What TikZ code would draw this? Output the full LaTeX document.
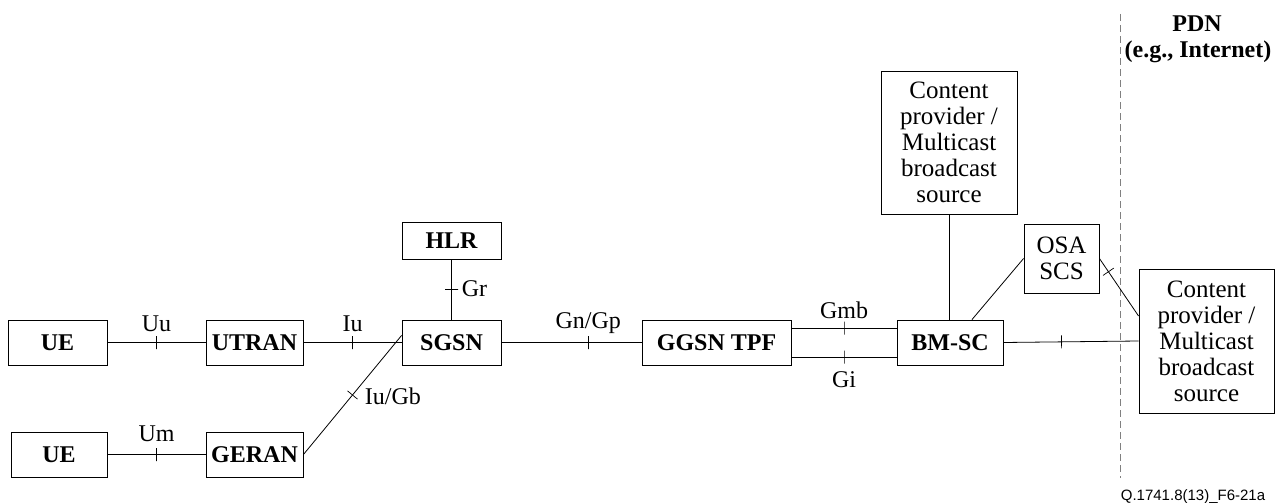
\documentclass[tikz,border=0pt]{standalone}
\usepackage{fontspec}
\setmainfont{Liberation Serif}
\newfontfamily\footfont{Liberation Sans}
\usetikzlibrary{positioning}

\tikzset{
  box/.style={draw, line width=0.9pt, inner sep=0pt, align=center,
    font=\bfseries\fontsize{24}{27}\selectfont},
  srcbox/.style={draw, line width=0.9pt, inner sep=0pt, align=center,
    font=\fontsize{25}{26}\selectfont},
  tickmark/.style={draw, sloped, rectangle, minimum width=0pt,
    minimum height=13pt, inner sep=0pt, line width=0.7pt},
  lbl/.style={anchor=base, inner sep=0pt, font=\fontsize{24}{26}\selectfont},
  link/.style={line width=0.8pt},
}

\begin{document}
\begin{tikzpicture}[x=1pt,y=1pt]
 \useasboundingbox (0,0) rectangle (1280,-503);
 %
 \node[box, minimum width=99, minimum height=45] (ue1) at (57.5,-342.5) {UE};
 \node[box, minimum width=97, minimum height=45] (utran) at (254.5,-342.5) {UTRAN};
 \node[box, minimum width=99, minimum height=45] (sgsn) at (451.5,-342.5) {SGSN};
 \node[box, minimum width=99, minimum height=37] (hlr) at (451.5,-240.5) {HLR};
 \node[box, minimum width=96, minimum height=45] (ue2) at (59,-454.5) {UE};
 \node[box, minimum width=97, minimum height=45] (geran) at (254.5,-454.5) {GERAN};
 \node[box, minimum width=149, minimum height=45] (ggsn) at (716.5,-342.5) {GGSN TPF};
 \node[box, minimum width=106, minimum height=45] (bmsc) at (950,-342.5) {BM-SC};
 \node[srcbox, minimum width=136, minimum height=143] (cp1) at (949,-142.5)
   {Content\\provider /\\Multicast\\broadcast\\source};
 \node[srcbox, minimum width=75, minimum height=69] (osa) at (1061.5,-258.5) {OSA\\SCS};
 \node[srcbox, minimum width=135, minimum height=144] (cp2) at (1206.5,-341)
   {Content\\provider /\\Multicast\\broadcast\\source};
 %
 \node[box, draw=none] (pdn) at (1197,-32) [anchor=base] {PDN};
 \node[box, draw=none] (inet) at (1198,-58) [anchor=base] {(e.g., Internet)};
 \node[anchor=base, inner sep=0pt, font=\footfont\fontsize{15}{17}\selectfont] (fig)
   at (1193,-500) {Q.1741.8(13)\_F6-21a};
 %
 \coordinate (d1) at (1120,-14);
 \coordinate (d2) at (1120,-478);
 \draw[line width=0.8pt, gray, dash pattern=on 7pt off 4pt] (d1) -- (d2);
 %
 \draw[link] (ue1.east) -- node[tickmark] (t1) {} node[lbl, yshift=11pt] (luu) {Uu} (utran.west);
 \draw[link] (utran.east) -- node[tickmark] (t2) {} node[lbl, yshift=11pt] (liu) {Iu} (sgsn.west);
 \draw[link] (hlr.south) -- node[tickmark] (t3) {}
   node[lbl, anchor=base west, xshift=10pt, yshift=-7pt] (lgr) {Gr} (sgsn.north);
 \draw[link] (sgsn.east) -- node[tickmark, pos=.62] (t4) {}
   node[lbl, pos=.62, yshift=14pt] (lgn) {Gn/Gp} (ggsn.west);
 \draw[link] (ue2.east) -- node[tickmark] (t5) {} node[lbl, yshift=13pt] (lum) {Um} (geran.west);
 \draw[link] (geran.east) -- node[tickmark] (t6) {}
   node[lbl, anchor=base west, xshift=12pt, yshift=-10pt] (lgb) {Iu/Gb} (sgsn.172);
 \draw[link] ([yshift=14.5pt]ggsn.east) -- node[tickmark] (t7) {}
   node[lbl, yshift=10pt] (lgmb) {Gmb} ([yshift=14.5pt]bmsc.west);
 \draw[link] ([yshift=-14.5pt]ggsn.east) -- node[tickmark] (t8) {}
   node[lbl, yshift=-30pt] (lgi) {Gi} ([yshift=-14.5pt]bmsc.west);
 \draw[link] (cp1.south) -- (cp1.south |- bmsc.north);
 \draw[link] ([xshift=22pt]bmsc.north) -- (osa.west);
 \draw[link] (osa.east) -- node[tickmark, pos=.23] (t9) {} ([yshift=25pt]cp2.west);
 \draw[link] (bmsc.east) -- node[tickmark, pos=.43] (t10) {} (cp2.west);
\end{tikzpicture}
\end{document}
